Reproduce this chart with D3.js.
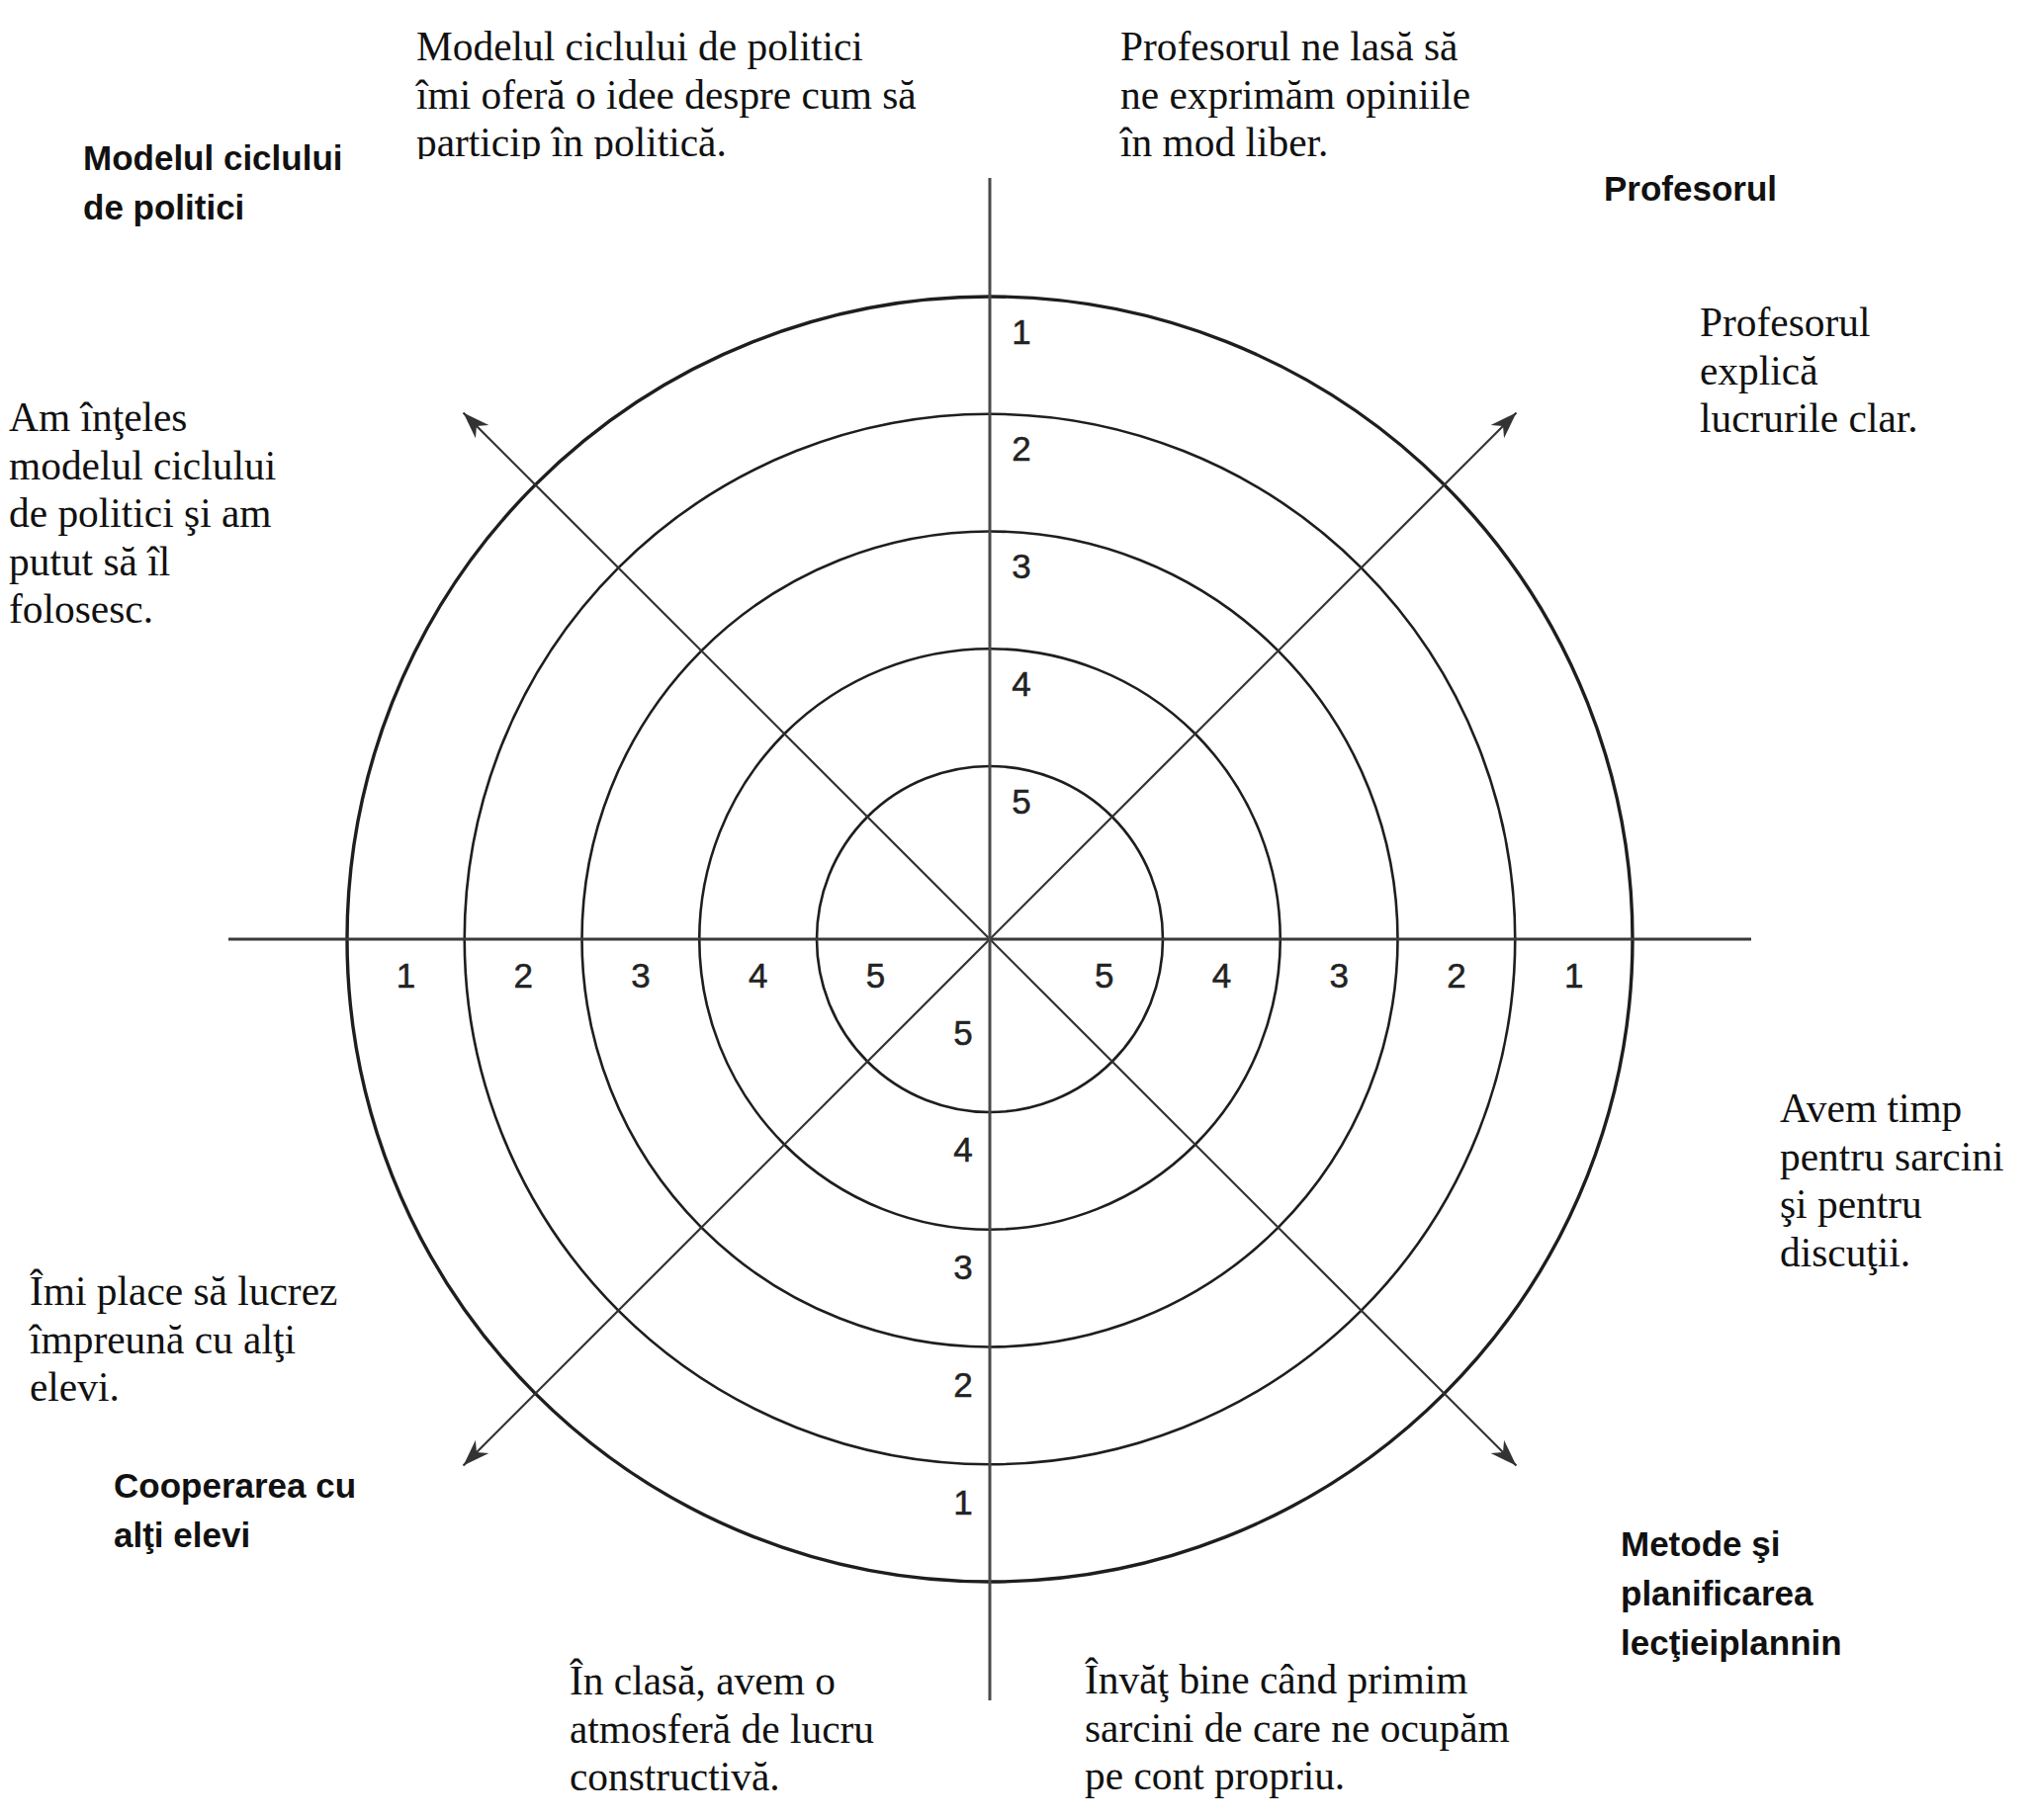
<!DOCTYPE html>
<html>
<head>
<meta charset="utf-8">
<script src="https://cdn.jsdelivr.net/npm/d3@7"></script>
<style>
  html, body { margin: 0; padding: 0; background: #fff; }
  svg { display: block; }
</style>
</head>
<body>
<div id="chart"></div>
<script>
// ---------------- DATA ----------------
const ringValues = [1, 2, 3, 4, 5];              // rating scale, 1 = outer ring, 5 = inner ring
const ringTickLabels = ["1", "2", "3", "4", "5"];

const categories = [
  ["Modelul ciclului", "de politici"],
  ["Profesorul"],
  ["Metode şi", "planificarea", "lecţieiplannin"],
  ["Cooperarea cu", "alţi elevi"]
];

const statements = [
  ["Modelul ciclului de politici", "îmi oferă o idee despre cum să", "particip în politică."],
  ["Profesorul ne lasă să", "ne exprimăm opiniile", "în mod liber."],
  ["Profesorul", "explică", "lucrurile clar."],
  ["Avem timp", "pentru sarcini", "şi pentru", "discuţii."],
  ["Învăţ bine când primim", "sarcini de care ne ocupăm", "pe cont propriu."],
  ["În clasă, avem o", "atmosferă de lucru", "constructivă."],
  ["Îmi place să lucrez", "împreună cu alţi", "elevi."],
  ["Am înţeles", "modelul ciclului", "de politici şi am", "putut să îl", "folosesc."]
];

// diagonal arrow directions (degrees, clockwise from north)
const arrowAngles = [45, 135, 225, 315];

// ---------------- LAYOUT ----------------
const W = 2056, H = 1841;
const cx = 1001, cy = 950;
const axisHalf = 770;
const arrowLen = 753;

const categoryLayout = [
  { x: 84,   y: 172 },
  { x: 1622, y: 203 },
  { x: 1639, y: 1574 },
  { x: 115,  y: 1515 }
];
const statementLayout = [
  { x: 421,  y: 61 },
  { x: 1133, y: 61 },
  { x: 1719, y: 340 },
  { x: 1800, y: 1135 },
  { x: 1097, y: 1713 },
  { x: 576,  y: 1714 },
  { x: 30,   y: 1320 },
  { x: 9,    y: 436 }
];

const serifFont = "'Liberation Serif', 'Times New Roman', serif";
const sansFont = "'Liberation Sans', Arial, Helvetica, sans-serif";

const svg = d3.select("#chart").append("svg")
  .attr("width", W).attr("height", H)
  .attr("viewBox", `0 0 ${W} ${H}`);

const defs = svg.append("defs");
defs.append("marker")
  .attr("id", "arrowhead")
  .attr("viewBox", "-30 -12 32 24")
  .attr("refX", 0).attr("refY", 0)
  .attr("markerUnits", "userSpaceOnUse")
  .attr("markerWidth", 32).attr("markerHeight", 24)
  .attr("orient", "auto")
  .append("path")
  .attr("d", "M0,0 L-27,-9.5 L-19,0 L-27,9.5 Z")
  .attr("fill", "#333");

defs.append("clipPath").attr("id", "clipTop")
  .append("rect").attr("x", 0).attr("y", 0).attr("width", W).attr("height", 161);

// radial scale: rating value -> radius
const rScale = d3.scaleLinear().domain([1, 5]).range([650, 175]);

const g = svg.append("g");

// rings
g.selectAll("circle.ring")
  .data(ringValues)
  .enter().append("circle")
  .attr("class", "ring")
  .attr("cx", cx).attr("cy", cy)
  .attr("r", d => rScale(d))
  .attr("fill", "none")
  .attr("stroke", "#1e1e1e")
  .attr("stroke-width", d => d === 1 ? 3.4 : 2.6);

// diagonal arrows
g.selectAll("line.arrow")
  .data(arrowAngles)
  .enter().append("line")
  .attr("class", "arrow")
  .attr("x1", cx).attr("y1", cy)
  .attr("x2", d => cx + arrowLen * Math.sin(d * Math.PI / 180))
  .attr("y2", d => cy - arrowLen * Math.cos(d * Math.PI / 180))
  .attr("stroke", "#333")
  .attr("stroke-width", 2.2)
  .attr("marker-end", "url(#arrowhead)");

// main axes
g.append("line")
  .attr("x1", cx - axisHalf).attr("x2", cx + axisHalf)
  .attr("y1", cy).attr("y2", cy)
  .attr("stroke", "#3a3a3a").attr("stroke-width", 3.2);
g.append("line")
  .attr("x1", cx).attr("x2", cx)
  .attr("y1", cy - axisHalf).attr("y2", cy + axisHalf)
  .attr("stroke", "#4a4a4a").attr("stroke-width", 3);

// ring tick labels
const tickG = g.append("g")
  .attr("font-family", sansFont)
  .attr("font-size", 35)
  .attr("fill", "#222")
  .attr("stroke", "#222")
  .attr("stroke-width", 0.5)
  .attr("text-anchor", "middle")
  .attr("dominant-baseline", "central");

const tickSets = [
  { key: "left",   x: v => cx - rScale(v + 0.5), y: v => cy + 36 },
  { key: "right",  x: v => cx + rScale(v + 0.5), y: v => cy + 36 },
  { key: "top",    x: v => cx + 32, y: v => cy - rScale(v) + 35 },
  { key: "bottom", x: v => cx - 27, y: v => cy + rScale(v) - 81 }
];
tickSets.forEach(s => {
  tickG.selectAll("text." + s.key)
    .data(ringValues)
    .enter().append("text")
    .attr("class", s.key)
    .attr("x", s.x)
    .attr("y", s.y)
    .text((d, i) => ringTickLabels[i]);
});

// category labels (bold sans)
categories.forEach((lines, i) => {
  const t = svg.append("text")
    .attr("font-family", sansFont)
    .attr("font-weight", "bold")
    .attr("font-size", 35)
    .attr("fill", "#111")
    .attr("x", categoryLayout[i].x)
    .attr("y", categoryLayout[i].y);
  lines.forEach((ln, j) => {
    t.append("tspan")
      .attr("x", categoryLayout[i].x)
      .attr("dy", j === 0 ? 0 : 49.8)
      .text(ln);
  });
});

// statements (serif)
statements.forEach((lines, i) => {
  const t = svg.append("text")
    .attr("font-family", serifFont)
    .attr("font-size", 41.4)
    .attr("fill", "#111")
    .attr("x", statementLayout[i].x)
    .attr("y", statementLayout[i].y);
  if (i === 0) t.attr("clip-path", "url(#clipTop)");
  lines.forEach((ln, j) => {
    t.append("tspan")
      .attr("x", statementLayout[i].x)
      .attr("dy", j === 0 ? 0 : 48.6)
      .text(ln);
  });
});
</script>
</body>
</html>
